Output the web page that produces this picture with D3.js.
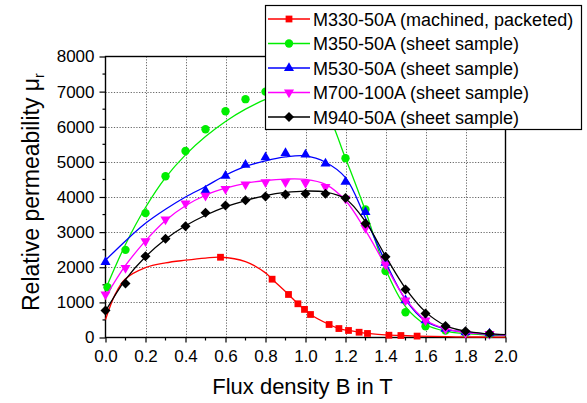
<!DOCTYPE html>
<html>
<head>
<meta charset="utf-8">
<script src="https://cdn.jsdelivr.net/npm/d3@7"></script>
<style>
  html, body { margin: 0; padding: 0; background: #fff; }
  svg { display: block; font-family: Arial, "Liberation Sans", Helvetica, sans-serif; }
</style>
</head>
<body>
<svg id="chart" width="587" height="403"></svg>
<script>
// ---- Data: relative permeability vs. flux density ----
const seriesNames = [
  "M330-50A (machined, packeted)",
  "M350-50A (sheet sample)",
  "M530-50A (sheet sample)",
  "M700-100A (sheet sample)",
  "M940-50A (sheet sample)"
];
const seriesColors = ["#ff0000", "#00ee00", "#0000ff", "#ff00ff", "#000000"];
const seriesSymbols = ["square", "circle", "triangleUp", "triangleDown", "diamond"];

// axis ticks
const xTicks = [0.0, 0.2, 0.4, 0.6, 0.8, 1.0, 1.2, 1.4, 1.6, 1.8, 2.0];
const yTicks = [0, 1000, 2000, 3000, 4000, 5000, 6000, 7000, 8000];

// fitted curves (common B grid)
const fitB = [0, 0.1, 0.2, 0.3, 0.4, 0.5, 0.6, 0.7, 0.8, 0.9, 1.0, 1.1, 1.2, 1.3, 1.4, 1.5, 1.6, 1.7, 1.8, 1.9, 2.0];
const fitM350 = [1370, 2650, 3700, 4550, 5200, 5720, 6150, 6500, 6780, 6950, 6950, 6450, 5100, 3600, 1950, 880, 370, 180, 110, 75, 55];
const fitM530 = [2200, 2750, 3250, 3650, 4000, 4300, 4620, 4870, 5030, 5140, 5170, 4990, 4550, 3400, 2150, 1080, 470, 240, 150, 100, 70];
const fitM700 = [1150, 2050, 2750, 3330, 3750, 4050, 4250, 4390, 4470, 4510, 4500, 4360, 3900, 3050, 2050, 1100, 500, 250, 140, 100, 70];
const fitM940 = [750, 1650, 2300, 2800, 3180, 3480, 3720, 3900, 4040, 4130, 4170, 4140, 3950, 3300, 2320, 1400, 730, 340, 180, 110, 80];

// packeted sample: curve through the measured points
const lineB_M330 = [0, 0.05, 0.1, 0.2, 0.3, 0.4, 0.5, 0.575, 0.7, 0.8, 0.833, 0.915, 0.962, 0.995, 1.025, 1.118, 1.167, 1.215, 1.268, 1.31, 1.417, 1.477, 1.558, 1.75, 2.0];
const lineMu_M330 = [510, 1250, 1670, 1990, 2125, 2200, 2260, 2285, 2160, 1840, 1660, 1225, 960, 800, 655, 370, 255, 200, 150, 115, 65, 57, 40, 20, 10];

// measured points
const ptB_M330 = [0.575, 0.833, 0.915, 0.962, 0.995, 1.025, 1.118, 1.167, 1.215, 1.268, 1.31, 1.417, 1.477, 1.558];
const ptMu_M330 = [2285, 1660, 1225, 960, 800, 655, 370, 255, 200, 150, 115, 65, 57, 40];

const ptB_M350 = [0.01, 0.1, 0.2, 0.3, 0.4, 0.5, 0.6, 0.7, 0.8, 0.9, 1.0, 1.1, 1.2, 1.3, 1.4, 1.5, 1.6, 1.7, 1.8, 1.92];
const ptMu_M350 = [1430, 2495, 3540, 4590, 5310, 5930, 6440, 6785, 7000, 7150, 7100, 6650, 5105, 3645, 1890, 720, 320, 200, 130, 95];

const ptB_M530 = [0, 0.5, 0.6, 0.7, 0.8, 0.9, 1.0, 1.1, 1.2, 1.3, 1.4, 1.5, 1.6, 1.7, 1.8, 1.92];
const ptMu_M530 = [2150, 4185, 4600, 4915, 5130, 5250, 5210, 4950, 4435, 3570, 2125, 1055, 485, 245, 150, 115];

const ptB_M700 = [0, 0.1, 0.2, 0.3, 0.4, 0.5, 0.6, 0.7, 0.8, 0.9, 1.0, 1.1, 1.2, 1.3, 1.4, 1.5, 1.6, 1.7, 1.8, 1.92];
const ptMu_M700 = [1225, 1980, 2740, 3360, 3815, 4040, 4230, 4355, 4420, 4420, 4400, 4290, 3950, 3120, 2080, 1055, 485, 245, 130, 100];

const ptB_M940 = [0, 0.1, 0.2, 0.3, 0.4, 0.5, 0.6, 0.7, 0.8, 0.9, 1.0, 1.1, 1.2, 1.3, 1.4, 1.5, 1.6, 1.7, 1.8, 1.92];
const ptMu_M940 = [770, 1540, 2315, 2810, 3170, 3550, 3760, 3910, 4015, 4070, 4090, 4090, 3975, 3245, 2300, 1365, 685, 325, 180, 115];

// ---- assemble series ----
const zip = (a, b) => a.map((v, i) => [v, b[i]]);
const series = [
  { line: zip(lineB_M330, lineMu_M330), pts: zip(ptB_M330, ptMu_M330) },
  { line: zip(fitB, fitM350), pts: zip(ptB_M350, ptMu_M350) },
  { line: zip(fitB, fitM530), pts: zip(ptB_M530, ptMu_M530) },
  { line: zip(fitB, fitM700), pts: zip(ptB_M700, ptMu_M700) },
  { line: zip(fitB, fitM940), pts: zip(ptB_M940, ptMu_M940) }
].map((s, i) => ({ ...s, name: seriesNames[i], color: seriesColors[i], symbol: seriesSymbols[i] }));

// ---- layout ----
const svg = d3.select("#chart");
const plotL = 105.5, plotR = 505.5, plotT = 56.5, plotB = 337.5;

const x = d3.scaleLinear().domain([0, 2]).range([plotL, plotR]);
const y = d3.scaleLinear().domain([0, 8000]).range([plotB, plotT]);

// grid
const grid = svg.append("g").attr("stroke", "#666").attr("stroke-width", 1).attr("stroke-dasharray", "1.2,1.6");
grid.selectAll("line.vx").data(xTicks.filter(t => t > 0 && t < 2)).join("line")
  .attr("x1", d => Math.round(x(d)) + 0.5).attr("x2", d => Math.round(x(d)) + 0.5)
  .attr("y1", plotT).attr("y2", plotB);
grid.selectAll("line.hy").data(yTicks.filter(t => t > 0 && t < 8000)).join("line")
  .attr("x1", plotL).attr("x2", plotR)
  .attr("y1", d => Math.round(y(d)) + 0.5).attr("y2", d => Math.round(y(d)) + 0.5);

// axes
const fontTick = 17;
const xAxis = d3.axisBottom(x).tickValues(xTicks).tickFormat(d3.format(".1f")).tickSize(5).tickPadding(7);
const gx = svg.append("g").attr("transform", `translate(0,${plotB})`).call(xAxis);
const yAxis = d3.axisLeft(y).tickValues(yTicks).tickFormat(d3.format("d")).tickSize(6).tickPadding(5);
const gy = svg.append("g").attr("transform", `translate(${plotL},0)`).call(yAxis);
[gx, gy].forEach(g => {
  g.select(".domain").remove();
  g.selectAll("line").attr("stroke", "#000").attr("stroke-width", 1.2);
  g.selectAll("text").attr("font-size", fontTick).attr("fill", "#000")
    .attr("font-family", 'Arial, "Liberation Sans", sans-serif');
});

// minor ticks
const xMinor = d3.range(1, 20, 2).map(i => i / 10);
svg.append("g").selectAll("line").data(xMinor).join("line")
  .attr("x1", d => x(d)).attr("x2", d => x(d))
  .attr("y1", plotB).attr("y2", plotB + 3)
  .attr("stroke", "#000").attr("stroke-width", 1.2);
const yMinor = d3.range(500, 8000, 1000);
svg.append("g").selectAll("line").data(yMinor).join("line")
  .attr("x1", plotL - 3).attr("x2", plotL)
  .attr("y1", d => y(d)).attr("y2", d => y(d))
  .attr("stroke", "#000").attr("stroke-width", 1.2);

// frame
svg.append("rect").attr("x", plotL).attr("y", plotT)
  .attr("width", plotR - plotL).attr("height", plotB - plotT)
  .attr("fill", "none").attr("stroke", "#000").attr("stroke-width", 1.4);

// symbols
function symbolPath(kind) {
  switch (kind) {
    case "square": return d3.symbol(d3.symbolSquare, 46)();
    case "circle": return d3.symbol(d3.symbolCircle, 55)();
    case "triangleUp": return d3.symbol(d3.symbolTriangle, 44)();
    case "triangleDown": return d3.symbol(d3.symbolTriangle, 44)();
    case "diamond": return d3.symbol(d3.symbolSquare, 50)();
  }
}
function symbolRotate(kind) {
  if (kind === "triangleDown") return 180;
  if (kind === "diamond") return 45;
  return 0;
}

const lineGen = d3.line().x(d => x(d[0])).y(d => y(d[1])).curve(d3.curveCatmullRom.alpha(0.5));

series.forEach(s => {
  const g = svg.append("g");
  g.append("path").attr("d", lineGen(s.line))
    .attr("fill", "none").attr("stroke", s.color).attr("stroke-width", 1.3);
  g.selectAll("path.m").data(s.pts).join("path")
    .attr("class", "m")
    .attr("d", symbolPath(s.symbol))
    .attr("transform", d => `translate(${x(d[0])},${y(d[1])}) rotate(${symbolRotate(s.symbol)})`)
    .attr("fill", s.color);
});

// axis titles
svg.append("text").attr("x", (plotL + plotR) / 2 - 3).attr("y", 394)
  .attr("text-anchor", "middle").attr("font-size", 22).attr("fill", "#000")
  .text("Flux density B in T");

const yt = svg.append("text").attr("transform", "translate(39,311) rotate(-90)")
  .attr("text-anchor", "start").attr("font-size", 23).attr("fill", "#000");
yt.append("tspan").text("Relative permeability μ");
yt.append("tspan").attr("font-size", 14).attr("dy", 5).text("r");

// legend
const lg = svg.append("g");
lg.append("rect").attr("x", 265.5).attr("y", 5.5).attr("width", 316).attr("height", 124)
  .attr("fill", "#fff").attr("stroke", "#000").attr("stroke-width", 1.2);
const rowY = d3.scalePoint().domain(d3.range(series.length)).range([19, 117]);
series.forEach((s, i) => {
  const cy = rowY(i);
  lg.append("line").attr("x1", 268).attr("x2", 310).attr("y1", cy).attr("y2", cy)
    .attr("stroke", s.color).attr("stroke-width", 1.3);
  lg.append("path").attr("d", symbolPath(s.symbol))
    .attr("transform", `translate(289,${cy}) rotate(${symbolRotate(s.symbol)})`)
    .attr("fill", s.color);
  lg.append("text").attr("x", 313).attr("y", cy + 6.5)
    .attr("font-size", 18).attr("fill", "#000").text(s.name);
});
</script>
</body>
</html>
